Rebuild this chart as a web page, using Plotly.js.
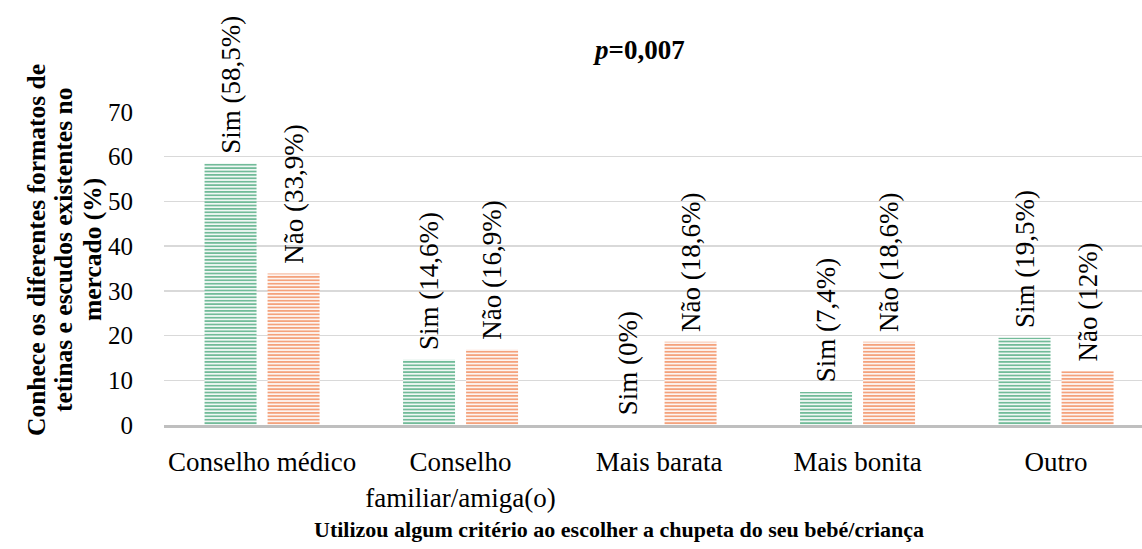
<!DOCTYPE html>
<html>
<head>
<meta charset="utf-8">
<script src="https://cdn.plot.ly/plotly-3.0.1.min.js"></script>
<style>
  html, body { margin: 0; padding: 0; background: #fff; }
  #chart { width: 1142px; height: 549px; }
</style>
</head>
<body>
<div id="chart"></div>
<script>
const categories = ['Conselho médico', 'Conselho<br>familiar/amiga(o)', 'Mais barata', 'Mais bonita', 'Outro'];
const sim = [58.5, 14.6, 0, 7.4, 19.5];
const nao = [33.9, 16.9, 18.6, 18.6, 12];
const yTicks = [0, 10, 20, 30, 40, 50, 60, 70];

const serif = '"Liberation Serif", serif';
const pct = v => String(v).replace('.', ',') + '%';

function series(name, values, stripe) {
    return {
        type: 'bar',
        name,
        x: categories,
        y: values,
        text: values.map(v => `\u00a0${name} (${pct(v)})`),
        textposition: 'outside',
        textangle: -90,
        constraintext: 'none',
        cliponaxis: false,
        textfont: { family: serif, size: 27, color: '#000' },
        marker: {
            color: '#ffffff',
            line: { width: 0 },
            pattern: { shape: '-', fgcolor: stripe, bgcolor: '#ffffff', size: 3.4, solidity: 0.55 }
        },
        hoverinfo: 'none'
    };
}

const data = [
    series('Sim', sim, '#72bb99'),
    series('Não', nao, '#f4a27c'),
];

// pixel helpers for the annotations (plot area: x 164..1142, y 112..425)
const px = x => (x - 164) / 978;
const py = y => (425 - y) / 313;

const layout = {
    width: 1142,
    height: 549,
    margin: { l: 164, r: 0, t: 112, b: 124 },
    paper_bgcolor: '#fff',
    plot_bgcolor: '#fff',
    showlegend: false,
    barmode: 'group',
    bargap: 0.365,
    bargroupgap: 0.175,
    font: { family: serif, color: '#000' },
    xaxis: {
        range: [-0.494, 4.433],
        showgrid: false,
        showline: true,
        linecolor: '#bfbfbf',
        linewidth: 3,
        ticks: '',
        ticklabelstandoff: 11,
        tickfont: { family: serif, size: 27, color: '#000' },
        fixedrange: true
    },
    yaxis: {
        range: [0, 70],
        tickvals: yTicks,
        showgrid: true,
        gridcolor: '#d9d9d9',
        gridwidth: 1.5,
        zeroline: false,
        showline: false,
        ticks: '',
        ticklabelstandoff: 30,
        tickfont: { family: serif, size: 25, color: '#000' },
        fixedrange: true
    },
    annotations: [
        { text: '<i>Utilizou algum critério ao escolher a chupeta do seu bebé/criança</i>', xref: 'paper', yref: 'paper',
          x: px(20), y: py(-3), xanchor: 'left', yanchor: 'bottom', showarrow: false,
          font: { family: serif, size: 26, color: '#000' } },
        { text: '<b><i>p</i>=0,007</b>', xref: 'paper', yref: 'paper', x: px(639), y: py(50),
          xanchor: 'center', yanchor: 'middle', showarrow: false, font: { family: serif, size: 27, color: '#000' } },
        { text: '<b>Conhece os diferentes formatos de</b>', xref: 'paper', yref: 'paper', x: px(37), y: py(250),
          xanchor: 'center', yanchor: 'middle', textangle: -90, showarrow: false, font: { family: serif, size: 25.5, color: '#000' } },
        { text: '<b>tetinas e escudos existentes no</b>', xref: 'paper', yref: 'paper', x: px(64), y: py(250),
          xanchor: 'center', yanchor: 'middle', textangle: -90, showarrow: false, font: { family: serif, size: 25.5, color: '#000' } },
        { text: '<b>mercado (%)</b>', xref: 'paper', yref: 'paper', x: px(93), y: py(250),
          xanchor: 'center', yanchor: 'middle', textangle: -90, showarrow: false, font: { family: serif, size: 25.5, color: '#000' } },
        { text: '<b>Utilizou algum critério ao escolher a chupeta do seu bebé/criança</b>', xref: 'paper', yref: 'paper',
          x: px(619), y: py(529), xanchor: 'center', yanchor: 'middle', showarrow: false,
          font: { family: serif, size: 22, color: '#000' } },
    ]
};

Plotly.newPlot('chart', data, layout, { displayModeBar: false, staticPlot: true });
</script>
</body>
</html>
